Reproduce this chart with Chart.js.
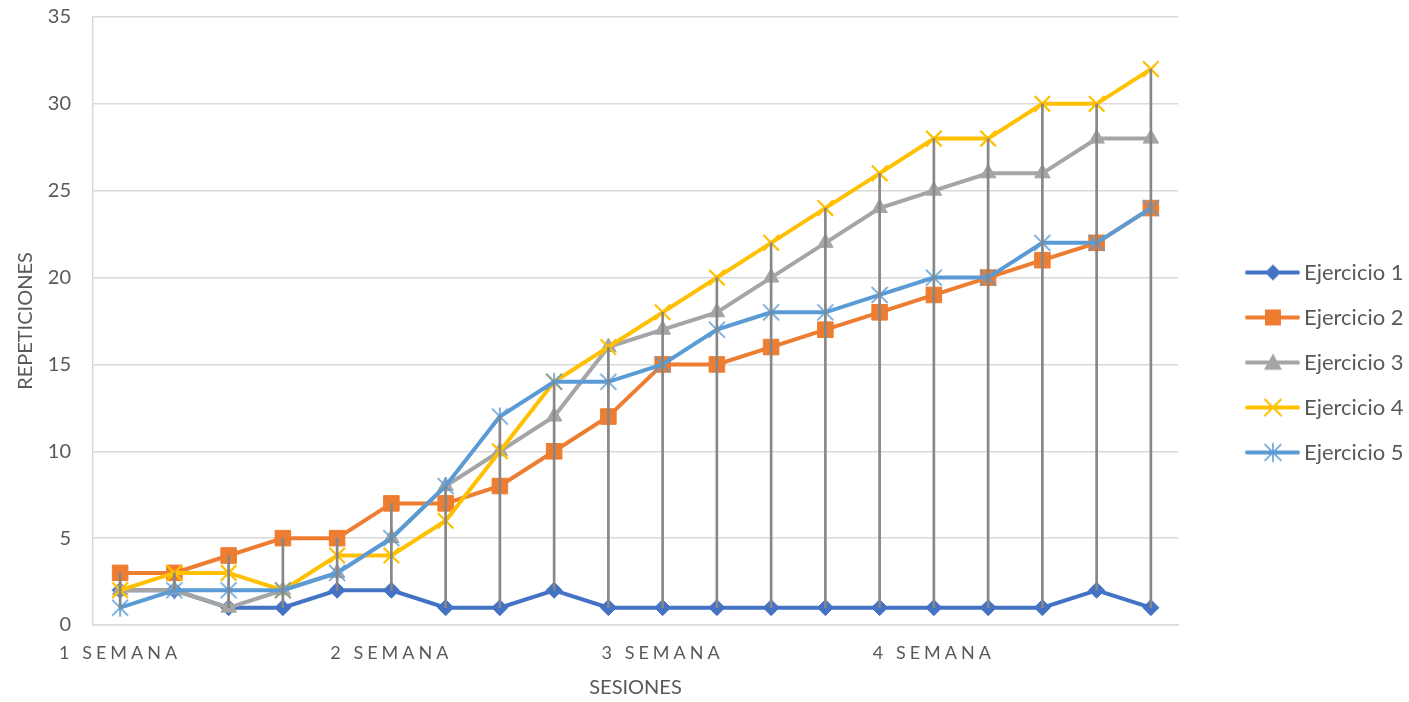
<!DOCTYPE html>
<html>
<head>
<meta charset="utf-8">
<script src="https://cdn.jsdelivr.net/npm/chart.js@4/dist/chart.umd.min.js"></script>
<style>
html,body{margin:0;padding:0;background:#ffffff;}
#wrap{width:1409px;height:702px;position:relative;}
</style>
</head>
<body>
<div id="wrap"><canvas id="c" width="1409" height="702"></canvas></div>
<script>
// ---- data ----
const categories = ['1 SEMANA','','','','','2 SEMANA','','','','','3 SEMANA','','','','','4 SEMANA','','','',''];
const ejercicio1 = [2,2,1,1,2,2,1,1,2,1,1,1,1,1,1,1,1,1,2,1];
const ejercicio2 = [3,3,4,5,5,7,7,8,10,12,15,15,16,17,18,19,20,21,22,24];
const ejercicio3 = [2,2,1,2,3,5,8,10,12,16,17,18,20,22,24,25,26,26,28,28];
const ejercicio4 = [2,3,3,2,4,4,6,10,14,16,18,20,22,24,26,28,28,30,30,32];
const ejercicio5 = [1,2,2,2,3,5,8,12,14,14,15,17,18,18,19,20,20,22,22,24];
const seriesNames = ['Ejercicio 1','Ejercicio 2','Ejercicio 3','Ejercicio 4','Ejercicio 5'];
const yTickMin = 0, yTickMax = 35, yTickStep = 5;
const xTitle = 'SESIONES';
const yTitle = 'REPETICIONES';

// ---- styles ----
const seriesData = [ejercicio1, ejercicio2, ejercicio3, ejercicio4, ejercicio5];
const colors = ['#4472C4','#ED7D31','#A5A5A5','#FFC000','#5B9BD5'];
const markerKinds = ['diamond','square','triangle','x','star'];
const TEXT = '#595959';
const GRID = '#D9D9D9';
const FONT = 'Lato';

function drawMarker(ctx, kind, x, y, color) {
  ctx.save();
  ctx.fillStyle = color; ctx.strokeStyle = color;
  ctx.beginPath();
  if (kind === 'diamond') {
    const r = 8;
    ctx.moveTo(x, y - r); ctx.lineTo(x + r, y); ctx.lineTo(x, y + r); ctx.lineTo(x - r, y); ctx.closePath(); ctx.fill();
  } else if (kind === 'square') {
    const s = 8;
    ctx.rect(x - s, y - s, 2 * s, 2 * s); ctx.fill();
  } else if (kind === 'triangle') {
    const r = 9;
    ctx.moveTo(x, y - r); ctx.lineTo(x + r, y + r * 0.8); ctx.lineTo(x - r, y + r * 0.8); ctx.closePath(); ctx.fill();
  } else if (kind === 'x') {
    const r = 8; ctx.lineWidth = 2;
    ctx.moveTo(x - r, y - r); ctx.lineTo(x + r, y + r); ctx.moveTo(x + r, y - r); ctx.lineTo(x - r, y + r); ctx.stroke();
  } else if (kind === 'star') {
    const r = 8; ctx.lineWidth = 1.6;
    ctx.moveTo(x - r, y - r); ctx.lineTo(x + r, y + r); ctx.moveTo(x + r, y - r); ctx.lineTo(x - r, y + r);
    ctx.moveTo(x, y - r - 1); ctx.lineTo(x, y + r + 1); ctx.stroke();
  }
  ctx.restore();
}
function starImage(color) {
  const c = document.createElement('canvas'); c.width = 22; c.height = 22;
  drawMarker(c.getContext('2d'), 'star', 11, 11, color);
  return c;
}
// legend sample image: wider than the legend box so the line sits right of centre
const LEG_BOX = 92, LEG_IMG = 106, LEG_LINE = 54;
function legendImage(i) {
  const c = document.createElement('canvas'); c.width = LEG_IMG; c.height = 22;
  const g = c.getContext('2d');
  g.strokeStyle = colors[i]; g.lineWidth = 4; g.lineCap = 'round';
  g.beginPath(); g.moveTo(LEG_IMG - LEG_LINE + 1, 11); g.lineTo(LEG_IMG - 2, 11); g.stroke();
  drawMarker(g, markerKinds[i], LEG_IMG - LEG_LINE / 2, 11, colors[i]);
  return c;
}
const legendImgs = seriesNames.map((_, i) => legendImage(i));

const pointStyles = ['rectRot','rect','triangle','crossRot', starImage(colors[4])];
const pointRadii = [8, 11, 9, 11, 9];
const pointBorderW = [1, 1, 1, 2.2, 1];

// high-low lines derived from series
const highLow = categories.map((_, k) => {
  const vals = seriesData.map(s => s[k]);
  return [Math.min(...vals), Math.max(...vals)];
});

const LEG_FONT = 22, LEG_PAD = 23;

Chart.defaults.font.family = FONT;
Chart.defaults.color = TEXT;

const spacingPlugin = {
  id: 'xLetterSpacing',
  beforeDraw(chart) {
    const s = chart.scales.x;
    if (s && !s.__ls) {
      const orig = s.drawLabels;
      s.drawLabels = function (area) {
        const ctx = this.ctx;
        ctx.save();
        ctx.letterSpacing = '4px';
        orig.call(this, area);
        ctx.letterSpacing = '0px';
        ctx.restore();
      };
      s.__ls = true;
    }
  }
};

const datasets = seriesData.map((d, i) => ({
  type: 'line',
  label: seriesNames[i],
  data: d,
  borderColor: colors[i],
  backgroundColor: colors[i],
  borderWidth: 4,
  pointStyle: pointStyles[i],
  pointRadius: pointRadii[i],
  pointHoverRadius: pointRadii[i],
  pointBackgroundColor: colors[i],
  pointBorderColor: colors[i],
  pointBorderWidth: pointBorderW[i],
  tension: 0,
  order: 5 - i
}));
datasets.push({
  type: 'bar',
  label: 'highlow',
  data: highLow,
  backgroundColor: '#878787',
  borderWidth: 0,
  barThickness: 2,
  order: -1
});

new Chart(document.getElementById('c'), {
  type: 'line',
  data: { labels: categories, datasets },
  options: {
    responsive: false,
    animation: false,
    devicePixelRatio: 1,
    events: [],
    layout: { padding: { left: 0, top: 17, bottom: 0, right: 0 } },
    scales: {
      x: {
        offset: true,
        grid: { display: false, drawTicks: false },
        border: { display: true, color: GRID, width: 1.5 },
        ticks: { autoSkip: false, maxRotation: 0, minRotation: 0, padding: 17, color: TEXT, font: { family: FONT, size: 18 } },
        title: { display: true, text: xTitle, color: TEXT, font: { family: FONT, size: 20 }, padding: { top: 0, bottom: 2 } },
        afterFit(scale) { scale.height = 77; }
      },
      y: {
        min: yTickMin, max: yTickMax,
        grid: { color: GRID, lineWidth: 1.5, drawTicks: true, tickLength: 22, tickColor: 'rgba(0,0,0,0)' },
        border: { display: true, color: GRID, width: 1.5 },
        ticks: { stepSize: yTickStep, padding: 0, color: TEXT, font: { family: FONT, size: 20 } },
        title: { display: true, text: yTitle, color: TEXT, font: { family: FONT, size: 20 }, padding: { top: 14, bottom: 0 } },
        afterFit(scale) { scale.width = 93; }
      }
    },
    plugins: {
      tooltip: { enabled: false },
      legend: {
        position: 'right',
        maxWidth: 231,
        title: { display: true, text: ' ', font: { size: 5 }, padding: 0 },
        labels: {
          usePointStyle: true,
          pointStyleWidth: LEG_BOX,
          padding: LEG_PAD,
          color: TEXT,
          font: { family: FONT, size: LEG_FONT },
          filter: (item) => item.datasetIndex < 5,
          sort: (a, b) => a.datasetIndex - b.datasetIndex,
          generateLabels(chart) {
            const items = Chart.defaults.plugins.legend.labels.generateLabels(chart);
            items.forEach(it => { if (it.datasetIndex < 5) it.pointStyle = legendImgs[it.datasetIndex]; });
            return items;
          }
        }
      }
    }
  },
  plugins: [spacingPlugin]
});
</script>
</body>
</html>
